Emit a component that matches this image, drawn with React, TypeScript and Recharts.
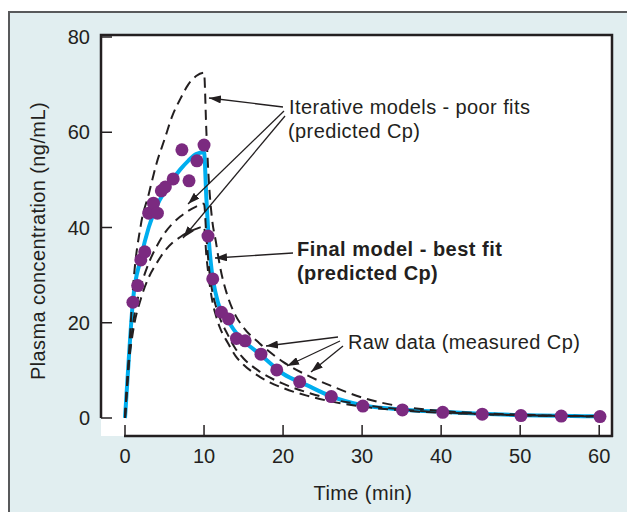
import React from "react";
import { ComposedChart, Line, Scatter, XAxis, YAxis } from "recharts";

// measured plasma concentrations
const rawTime = [1.0, 1.6, 2.0, 2.5, 3.0, 3.6, 4.1, 4.6, 5.1, 6.1, 7.2, 8.1, 9.1, 10.0, 10.5, 11.1, 12.2, 13.1, 14.1, 15.2, 17.2, 19.2, 22.1, 26.1, 30.1, 35.1, 40.2, 45.2, 50.1, 55.2, 60.1];
const rawConc = [24.3, 27.8, 33.2, 34.9, 43.0, 45.1, 43.0, 47.7, 48.5, 50.2, 56.3, 49.8, 54.0, 57.3, 38.2, 29.2, 22.2, 20.8, 16.7, 16.2, 13.4, 10.1, 7.6, 4.5, 2.5, 1.7, 1.2, 0.8, 0.5, 0.4, 0.3];

// model curves share one time grid
const modelTime = [0, 0.5, 1, 2, 3, 4, 5, 6, 7, 8, 9, 10, 10.3, 10.6, 11, 11.5, 12, 13, 14, 15, 17, 20, 23, 26, 30, 35, 40, 45, 50, 55, 60];
const finalConc = [0, 13, 24.5, 33.5, 40, 44.5, 47.5, 50, 52.2, 54, 55.4, 55.8, 46, 37.5, 30.5, 26, 23, 20.5, 18, 16.2, 13.5, 9.3, 6.9, 4.6, 2.7, 1.8, 1.3, 0.9, 0.6, 0.45, 0.35];
const iterHigh = [0, 13.5, 27, 40.5, 47, 53.5, 58.5, 63.5, 67, 70, 71.8, 72.5, 60, 50, 42, 37, 32, 25.5, 21.5, 19, 15.7, 11.8, 9.0, 6.8, 4.3, 2.4, 1.5, 1.0, 0.7, 0.5, 0.4];
const iterMid = [0, 12, 19.5, 27.5, 32.5, 36, 38.8, 40.8, 42.3, 43.5, 44.4, 45, 38, 32, 27, 23.5, 21, 17.5, 14.5, 12.5, 9.8, 7.2, 5.4, 4.0, 2.8, 1.8, 1.2, 0.85, 0.6, 0.45, 0.35];
const iterLow = [0, 11.5, 18, 25, 29.5, 32.5, 35, 36.8, 38, 39, 39.7, 40.2, 34, 29.5, 25, 21.5, 19, 15.8, 13, 11.2, 8.7, 6.3, 4.7, 3.5, 2.4, 1.6, 1.1, 0.8, 0.55, 0.4, 0.3];

const xTicks = [0, 10, 20, 30, 40, 50, 60];
const yTicks = [0, 20, 40, 60, 80];

const toPoints = (xs: number[], ys: number[]) => xs.map((x, i) => ({ x, y: ys[i] }));

const rawData = toPoints(rawTime, rawConc);
const finalData = toPoints(modelTime, finalConc);
const iterSeries = [iterHigh, iterMid, iterLow].map((s) => toPoints(modelTime, s));

const INK = "#231f20";
const FONT = "'Liberation Sans', Arial, Helvetica, sans-serif";

function Dot(props: any) {
  return <circle cx={props.cx} cy={props.cy} r={6.5} fill="#7b2a80" />;
}

export default function App() {
  const txt = { fontFamily: FONT, fontSize: 20, fill: INK, letterSpacing: 0.4 };
  return (
    <div style={{ position: "absolute", left: 0, top: 0, width: 627, height: 512, overflow: "hidden" }}>
      <div
        style={{
          position: "absolute",
          left: 8,
          top: 11,
          width: 640,
          height: 520,
          background: "#e1eef0",
          borderLeft: "2px solid #58595b",
          borderTop: "2px solid #58595b",
        }}
      />
      <div style={{ position: "absolute", left: 101, top: 35, width: 511, height: 401, background: "#fff" }} />
      <div style={{ position: "absolute", left: 0, top: 0 }}>
        <ComposedChart width={627} height={512} margin={{ top: 35, right: 15, bottom: 26, left: 41 }}>
          <XAxis
            dataKey="x"
            type="number"
            domain={[0, 60]}
            ticks={xTicks}
            padding={{ left: 24, right: 12 }}
            axisLine={false}
            tickSize={-11}
            tickMargin={24}
            tickLine={{ stroke: INK, strokeWidth: 1.5 }}
            tick={{ fill: INK, fontSize: 20, fontFamily: FONT }}
            height={50}
          />
          <YAxis
            type="number"
            domain={[0, 80]}
            ticks={yTicks}
            padding={{ top: 2, bottom: 18 }}
            axisLine={false}
            tickSize={-11}
            tickMargin={22}
            tickLine={{ stroke: INK, strokeWidth: 1.5 }}
            tick={{ fill: INK, fontSize: 20, fontFamily: FONT }}
            width={60}
          />
          <Line
            data={finalData}
            dataKey="y"
            type="monotone"
            stroke="#00aeef"
            strokeWidth={4}
            dot={false}
            isAnimationActive={false}
          />
          {iterSeries.map((d, i) => (
            <Line
              key={i}
              data={d}
              dataKey="y"
              type="monotone"
              stroke={INK}
              strokeWidth={2}
              strokeDasharray="10 6"
              dot={false}
              isAnimationActive={false}
            />
          ))}
          <Scatter data={rawData} dataKey="y" shape={<Dot />} isAnimationActive={false} />
        </ComposedChart>
      </div>
      <svg width={627} height={512} style={{ position: "absolute", left: 0, top: 0, pointerEvents: "none" }}>
        <defs>
          <marker id="head" viewBox="0 0 12 8" refX="12" refY="4" markerWidth="12" markerHeight="8" markerUnits="userSpaceOnUse" orient="auto">
            <path d="M0,0 L12,4 L0,8 z" fill={INK} />
          </marker>
        </defs>
        {/* frame */}
        <g stroke={INK} strokeWidth={2.5} fill="none">
          <polyline points="101,418 101,35 612,35 612,437" />
          <line x1={124} y1={436} x2={613} y2={436} />
        </g>
        {/* annotations */}
        <g stroke={INK} strokeWidth={1.3} markerEnd="url(#head)">
          <line x1={283} y1={107} x2={209} y2={98} />
          <line x1={284} y1={111} x2={188} y2={204} />
          <line x1={285} y1={116} x2={183} y2={238} />
          <line x1={293} y1={253} x2={215} y2={258} />
          <line x1={338} y1={337} x2={266} y2={346} />
          <line x1={340} y1={341} x2={287} y2={366} />
          <line x1={343} y1={346} x2={311} y2={372} />
        </g>
        <text x={289} y={114} {...txt}>Iterative models - poor fits</text>
        <text x={288} y={138} {...txt}>(predicted Cp)</text>
        <text x={297} y={256} {...txt} fontWeight="bold" letterSpacing={0.5}>Final model - best fit</text>
        <text x={297} y={280} {...txt} fontWeight="bold" letterSpacing={0.4}>(predicted Cp)</text>
        <text x={348} y={349} {...txt}>Raw data (measured Cp)</text>
        <text x={363} y={500} {...txt} textAnchor="middle">Time (min)</text>
        <text x={38} y={241} {...txt} textAnchor="middle" dominantBaseline="central" transform="rotate(-90 38 241)">
          Plasma concentration (ng/mL)
        </text>
      </svg>
    </div>
  );
}
